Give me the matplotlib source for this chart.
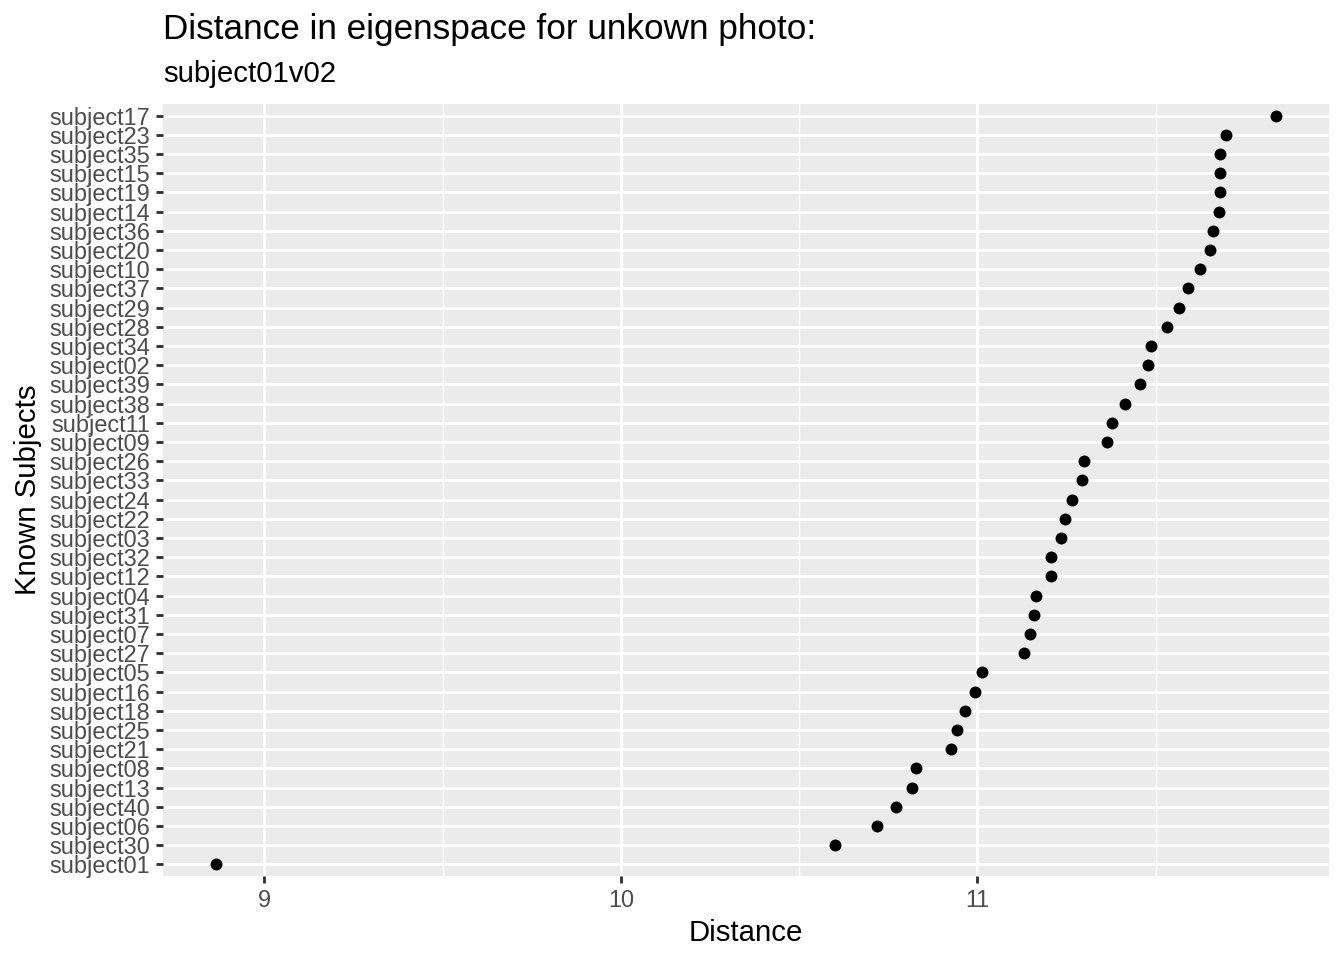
import matplotlib
matplotlib.use("Agg")
from matplotlib import pyplot as plt

plt.rcParams['font.family'] = ['Liberation Sans', 'DejaVu Sans']

# ordered bottom -> top (closest first)
subjects = ["subject01", "subject30", "subject06", "subject40", "subject13", "subject08",
            "subject21", "subject25", "subject18", "subject16", "subject05", "subject27",
            "subject07", "subject31", "subject04", "subject12", "subject32", "subject03",
            "subject22", "subject24", "subject33", "subject26", "subject09", "subject11",
            "subject38", "subject39", "subject02", "subject34", "subject28", "subject29",
            "subject37", "subject10", "subject20", "subject36", "subject14", "subject19",
            "subject15", "subject35", "subject23", "subject17"]
distance = [8.864, 10.600, 10.719, 10.773, 10.817, 10.828,
            10.925, 10.944, 10.966, 10.993, 11.013, 11.130,
            11.147, 11.159, 11.164, 11.207, 11.207, 11.234,
            11.246, 11.265, 11.293, 11.300, 11.363, 11.377,
            11.414, 11.457, 11.480, 11.488, 11.532, 11.565,
            11.591, 11.626, 11.653, 11.661, 11.678, 11.680,
            11.681, 11.681, 11.698, 11.838]
x_ticks = [9, 10, 11]
x_minor = [9.5, 10.5, 11.5]

fig = plt.figure(figsize=(7, 5), dpi=192)
ax = fig.add_axes([163 / 1344, 84 / 960, 1166 / 1344, 772 / 960])
ax.set_facecolor('#EBEBEB')

ypos = list(range(len(subjects)))
ax.scatter(distance, ypos, s=20, color='black', zorder=3, linewidths=0)

lo, hi = min(distance), max(distance)
pad = (hi - lo) * 0.05
ax.set_xlim(lo - pad, hi + pad)
ax.set_ylim(-0.6, len(subjects) - 1 + 0.6)

ax.set_xticks(x_ticks)
ax.set_xticks(x_minor, minor=True)
ax.set_yticks(ypos)
ax.set_yticklabels(subjects)
ax.grid(which='major', color='white', linewidth=1.07)
ax.grid(which='minor', axis='x', color='white', linewidth=0.53)
ax.set_axisbelow(True)
for s in ax.spines.values():
    s.set_visible(False)
ax.tick_params(which='major', length=2.75, width=1.07, color='#333333',
               labelsize=8.8, labelcolor='#4D4D4D', pad=2.2)
ax.tick_params(which='minor', length=0)

ax.set_xlabel("Distance", fontsize=11, labelpad=2.5)
ax.set_ylabel("Known Subjects", fontsize=11, labelpad=2.5)

fig.text(163 / 1344, 1 - 39 / 960, "Distance in eigenspace for unkown photo:",
         fontsize=13.2, va='baseline', ha='left')
fig.text(163 / 1344, 1 - 82 / 960, "subject01v02",
         fontsize=11, va='baseline', ha='left')

fig.savefig("out.png", dpi=192)
